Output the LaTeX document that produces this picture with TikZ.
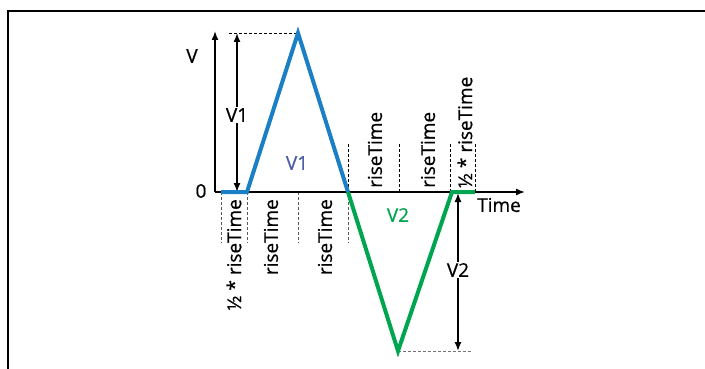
\documentclass[tikz,border=0pt]{standalone}
\usepackage{fontspec}
\setmainfont{Open Sans}[FakeBold=0.7]
\usetikzlibrary{arrows.meta}
\definecolor{lineblue}{HTML}{1A7FC4}
\definecolor{lblblue}{HTML}{4B5FA8}
\definecolor{linegreen}{HTML}{00A54F}
\begin{document}
\begin{tikzpicture}[x=1pt,y=-1pt,
  lbl/.style={font=\fontsize{19}{21}\selectfont, inner sep=1pt},
  rlbl/.style={lbl, rotate=90, inner sep=0pt},
  guide/.style={dash pattern=on 3pt off 2pt, line width=0.8pt},
  axis/.style={line width=1.6pt, -{Latex[length=9pt,width=7pt]}},
  dim/.style={line width=1.4pt, {Latex[length=9pt,width=7pt]}-{Latex[length=9pt,width=7pt]}},
  wave/.style={line width=4pt, line join=miter}]
\useasboundingbox (0,0) rectangle (705,369);
% frame
\draw[line width=2.5pt] (8,369) -- (8,11) -- (705,11);
% coordinates
\coordinate (O) at (215,192);
\coordinate (Ytop) at (215,31);
\coordinate (Xend) at (525,192);
\coordinate (A0) at (221,192);
\coordinate (A1) at (247,192);
\coordinate (P) at (298,33);
\coordinate (Z) at (348,192);
\coordinate (T) at (398,351);
\coordinate (B) at (452,192);
\coordinate (B1) at (475,192);
% guides below axis
\foreach \x [count=\i] in {221,247,298,348} {
  \coordinate (gb\i) at (\x,192);
  \coordinate (ge\i) at (\x,243);
  \draw[guide, black!65] (gb\i) -- (ge\i);
}
% guides above axis
\foreach \x [count=\i] in {348,399,450,475} {
  \coordinate (ha\i) at (\x,192);
  \coordinate (hb\i) at (\x,143);
  \draw[guide] (ha\i) -- (hb\i);
}
% peak / trough guides
\coordinate (Pl) at (229,33);
\draw[guide] (Pl) -- (P);
\coordinate (Tr) at (472,351);
\draw[guide, black!55] (T) -- (Tr);
% axes
\draw[axis] (O) -- (Ytop);
\draw[axis] (O) -- (Xend);
% dimension arrows
\coordinate (d1a) at (237,33);
\coordinate (d1b) at (237,192);
\draw[dim] (d1a) -- (d1b);
\node[lbl, fill=white] (v1d) at (237,115) {V1};
\coordinate (d2a) at (458,193);
\coordinate (d2b) at (458,351);
\draw[dim] (d2a) -- (d2b);
\node[lbl, fill=white] (v2d) at (458,270) {V2};
% waveform
\draw[wave, lineblue] (A0) -- (A1) -- (P) -- (Z);
\draw[wave, linegreen] (Z) -- (T) -- (B) -- (B1);
% labels
\node[lbl] (vlab) at (192,56) {V};
\node[lbl] (zero) at (201,191) {0};
\node[lbl] (time) at (499,205) {Time};
\node[lbl, text=lblblue] (v1in) at (297,163) {V1};
\node[lbl, text=linegreen] (v2in) at (398,215) {V2};
% rotated labels below axis
\node[rlbl, anchor=east] (r1) at (234,199) {½ * riseTime};
\node[rlbl, anchor=east] (r2) at (271,199) {riseTime};
\node[rlbl, anchor=east] (r3) at (325,199) {riseTime};
% rotated labels above axis
\node[rlbl, anchor=west] (r4) at (375,188) {riseTime};
\node[rlbl, anchor=west] (r5) at (428,188) {riseTime};
\node[rlbl, anchor=west] (r6) at (465,188) {½ * riseTime};
\end{tikzpicture}
\end{document}
